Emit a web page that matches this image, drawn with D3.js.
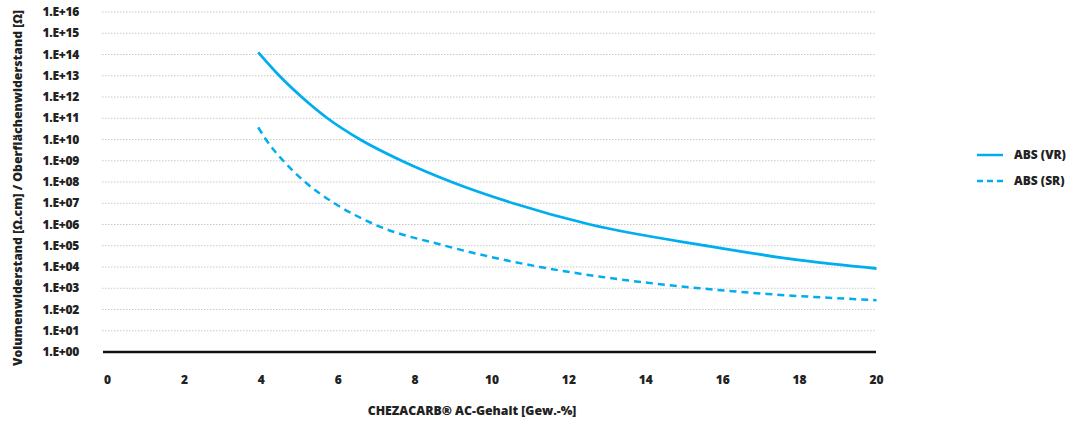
<!DOCTYPE html>
<html><head><meta charset="utf-8">
<script src="https://cdn.jsdelivr.net/npm/d3@7/dist/d3.min.js"></script>
<style>
html,body{margin:0;padding:0;background:#fff;}
text{font-family:"Open Sans",sans-serif;font-weight:800;fill:#222;}
</style></head>
<body>
<svg id="c" width="1071" height="422"></svg>
<script>
const xVR = [3.92, 4.47, 5.05, 5.72, 6.57, 7.65, 8.95, 10.55, 12.55, 15.58, 18.0, 20];
const valuesVR = [1.26e14, 1e13, 1e12, 1e11, 1e10, 1e9, 1e8, 1e7, 1e6, 1e5, 2.1e4, 8.5e3];
const xSR = [3.92, 4.12, 4.57, 5.14, 5.9, 6.95, 8.78, 11.25, 12.82, 15.4, 17.16, 20];
const valuesSR = [3.7e10, 1e10, 1e9, 1e8, 1e7, 1e6, 1e5, 1e4, 3.5e3, 1e3, 540, 275];
const seriesNames = ["ABS (VR)", "ABS (SR)"];
const xTicks = [0, 2, 4, 6, 8, 10, 12, 14, 16, 18, 20];
const yExponents = d3.range(0, 17);
const yTickLabels = yExponents.map(e => "1.E+" + String(e).padStart(2, "0"));
const xTitle = "CHEZACARB\u00AE AC-Gehalt [Gew.-%]";
const yTitle = "Volumenwiderstand [\u03A9.cm] / Oberfl\u00E4chenwiderstand [\u03A9]";

const color = "#00AEEF";
const svg = d3.select("#c");
const x = d3.scaleLinear().domain([0, 20]).range([107.5, 876.5]);
const y = d3.scaleLog().domain([1, 1e16]).range([352, 12]);

// grid
svg.append("g").selectAll("line").data(yExponents.filter(e => e > 0)).join("line")
  .attr("x1", 102).attr("x2", 876)
  .attr("y1", e => y(Math.pow(10, e))).attr("y2", e => y(Math.pow(10, e)))
  .attr("stroke", "#c8c8c8").attr("stroke-width", 1).attr("stroke-dasharray", "1.5,1.5");

// y labels
svg.append("g").selectAll("text").data(yExponents).join("text")
  .attr("x", 79).attr("y", e => y(Math.pow(10, e)))
  .attr("dy", "0.35em").attr("text-anchor", "end").attr("font-size", 12)
  .attr("letter-spacing", "-0.3")
  .text((e, i) => yTickLabels[i]);

// zero axis line
svg.append("line").attr("x1", 103).attr("x2", 876).attr("y1", y(1)).attr("y2", y(1))
  .attr("stroke", "#111").attr("stroke-width", 2.5);

// x labels
svg.append("g").selectAll("text").data(xTicks).join("text")
  .attr("x", d => x(d)).attr("y", 380).attr("dy", "0.35em")
  .attr("text-anchor", "middle").attr("font-size", 12).text(d => d);

// titles
svg.append("text").attr("x", 472).attr("y", 411).attr("dy", "0.35em")
  .attr("text-anchor", "middle").attr("font-size", 12.3).text(xTitle);
svg.append("text").attr("transform", "translate(18,188) rotate(-90)")
  .attr("dy", "0.35em").attr("text-anchor", "middle").attr("font-size", 12.3).text(yTitle);

// lines
const line = d3.line().curve(d3.curveMonotoneX).x(d => x(d[0])).y(d => y(d[1]));
svg.append("path").datum(xVR.map((v, i) => [v, valuesVR[i]]))
  .attr("d", line).attr("fill", "none").attr("stroke", color).attr("stroke-width", 2.8);
svg.append("path").datum(xSR.map((v, i) => [v, valuesSR[i]]))
  .attr("d", line).attr("fill", "none").attr("stroke", color).attr("stroke-width", 2.5)
  .attr("stroke-dasharray", "7,5");

// legend
const leg = svg.append("g");
[0, 1].forEach(i => {
  const ly = 155 + i * 26;
  leg.append("line").attr("x1", 977).attr("x2", 1003).attr("y1", ly).attr("y2", ly)
    .attr("stroke", color).attr("stroke-width", 2.5)
    .attr("stroke-dasharray", i === 1 ? "6,4" : null);
  leg.append("text").attr("x", 1014).attr("y", ly).attr("dy", "0.35em")
    .attr("font-size", 12).text(seriesNames[i]);
});
</script>
</body></html>
